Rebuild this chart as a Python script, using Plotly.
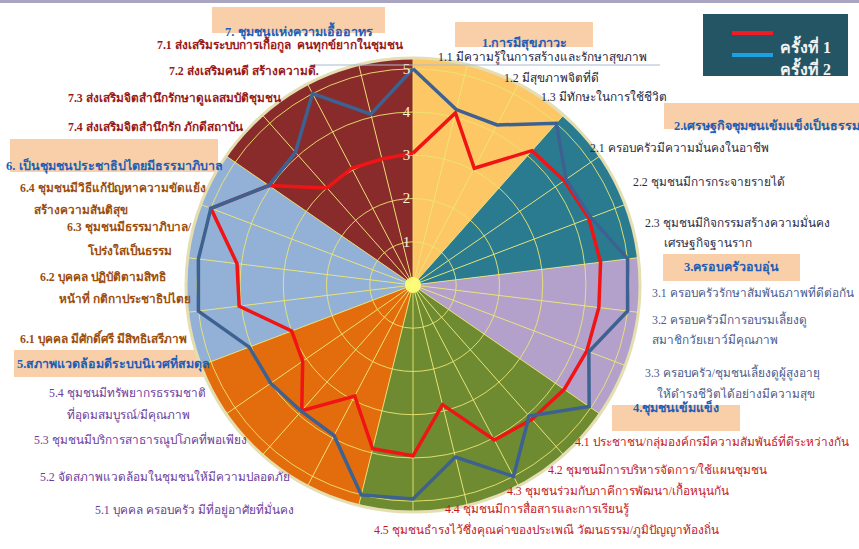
import plotly.graph_objects as go

W, H = 859, 549

# indicator items, clockwise from the top
items = ["1.1", "1.2", "1.3", "2.1", "2.2", "2.3", "3.1", "3.2", "3.3",
         "4.1", "4.2", "4.3", "4.4", "4.5", "5.1", "5.2", "5.3", "5.4",
         "6.1", "6.2", "6.3", "6.4", "7.1", "7.2", "7.3", "7.4"]
item_group = [1, 1, 1, 2, 2, 2, 3, 3, 3, 4, 4, 4, 4, 4, 5, 5, 5, 5,
              6, 6, 6, 6, 7, 7, 7, 7]

round_1 = [3.05, 4.1, 3.05, 4.15, 4.25, 4.35, 4.37, 4.33, 4.3, 4.25, 4.15, 4.05, 2.85,
           3.95, 3.9, 2.9, 3.88, 3.1, 3.0, 4.05, 4.1, 5.0, 4.05, 3.0, 3.05, 3.0]
round_2 = [5.0, 4.18, 4.18, 5.0, 4.3, 4.4, 5.0, 5.0, 4.35, 4.95, 4.05, 5.0, 4.1,
           4.95, 5.0, 3.93, 3.9, 4.0, 4.05, 5.0, 5.0, 5.0, 4.05, 4.1, 5.0, 4.07]
series_names = ["ครั้งที่ 1", "ครั้งที่ 2"]
radial_ticks = [1, 2, 3, 4, 5]
r_max = 5.25

group_titles = ["1.การมีสุขภาวะ",
                "2.เศรษฐกิจชุมชนเข้มแข็งเป็นธรรม",
                "3.ครอบครัวอบอุ่น",
                "4.ชุมชนเข้มแข็ง",
                "5.สภาพแวดล้อมดีระบบนิเวศที่สมดุล",
                "6. เป็นชุมชนประชาธิปไตยมีธรรมาภิบาล",
                "7. ชุมชนแห่งความเอื้ออาทร"]

label_lines = [
    ("1.1 มีความรู้ในการสร้างและรักษาสุขภาพ", 1),
    ("1.2 มีสุขภาพจิตที่ดี", 1),
    ("1.3 มีทักษะในการใช้ชีวิต", 1),
    ("2.1 ครอบครัวมีความมั่นคงในอาชีพ", 2),
    ("2.2 ชุมชนมีการกระจายรายได้", 2),
    ("2.3 ชุมชนมีกิจกรรมสร้างความมั่นคง", 2),
    ("เศรษฐกิจฐานราก", 2),
    ("3.1 ครอบครัวรักษาสัมพันธภาพที่ดีต่อกัน", 3),
    ("3.2 ครอบครัวมีการอบรมเลี้ยงดู", 3),
    ("สมาชิกวัยเยาว์มีคุณภาพ", 3),
    ("3.3 ครอบครัว/ชุมชนเลี้ยงดูผู้สูงอายุ", 3),
    ("ให้ดำรงชีวิตได้อย่างมีความสุข", 3),
    ("4.1 ประชาชน/กลุ่มองค์กรมีความสัมพันธ์ที่ดีระหว่างกัน", 4),
    ("4.2 ชุมชนมีการบริหารจัดการ/ใช้แผนชุมชน", 4),
    ("4.3 ชุมชนร่วมกับภาคีการพัฒนา/เกื้อหนุนกัน", 4),
    ("4.4 ชุมชนมีการสื่อสารและการเรียนรู้", 4),
    ("4.5 ชุมชนธำรงไว้ซึ่งคุณค่าของประเพณี วัฒนธรรม/ภูมิปัญญาท้องถิ่น", 4),
    ("5.4 ชุมชนมีทรัพยากรธรรมชาติ", 5),
    ("ที่อุดมสมบูรณ์/มีคุณภาพ", 5),
    ("5.3 ชุมชนมีบริการสาธารณูปโภคที่พอเพียง", 5),
    ("5.2 จัดสภาพแวดล้อมในชุมชนให้มีความปลอดภัย", 5),
    ("5.1 บุคคล ครอบครัว มีที่อยู่อาศัยที่มั่นคง", 5),
    ("6.4 ชุมชนมีวิธีแก้ปัญหาความขัดแย้ง", 6),
    ("สร้างความสันติสุข", 6),
    ("6.3 ชุมชนมีธรรมาภิบาล/", 6),
    ("โปร่งใสเป็นธรรม", 6),
    ("6.2 บุคคล ปฏิบัติตามสิทธิ", 6),
    ("หน้าที่ กติกาประชาธิปไตย", 6),
    ("6.1 บุคคล มีศักดิ์ศรี มีสิทธิเสรีภาพ", 6),
    ("7.1 ส่งเสริมระบบการเกื้อกูล  คนทุกข์ยากในชุมชน", 7),
    ("7.2 ส่งเสริมคนดี สร้างความดี.", 7),
    ("7.3 ส่งเสริมจิตสำนึกรักษาดูแลสมบัติชุมชน", 7),
    ("7.4 ส่งเสริมจิตสำนึกรัก ภักดีสถาบัน", 7),
]

# layout / style (pixel positions on the 859x549 page)
sector_colors = {1: "#fdc766", 2: "#2b7b90", 3: "#b3a1cb", 4: "#6e8b31",
                 5: "#e36c0c", 6: "#93b1d6", 7: "#8a2b2b"}
label_colors = {1: "#1c1c3a", 2: "#2a2a44", 3: "#4a5a8c", 4: "#c4161e",
                5: "#6b3c9c", 6: "#9c4e0e", 7: "#981a1a"}
label_pos = [(436, 57), (502, 78), (539, 97),
             (588, 147), (631, 182), (643, 222), (662, 243),
             (650, 292), (650, 319), (650, 340), (643, 372), (655, 394),
             (573, 441), (546, 470), (505, 490), (443, 509), (372, 530),
             (47, 393), (65, 415), (32, 440), (38, 477), (93, 510),
             (18, 188), (32, 210), (65, 227), (85, 250), (38, 277), (57, 298), (18, 338),
             (155, 45), (167, 71), (66, 98), (66, 127)]
title_boxes = [(455, 22, 593, 47), (664, 103, 859, 129), (663, 254, 800, 281),
               (612, 405, 740, 431), (14, 350, 212, 377), (10, 139, 218, 172),
               (212, 7, 385, 33)]
GRID = "rgba(236,228,112,0.9)"
SERIF = "Liberation Serif, DejaVu Serif, serif"
CENTER = (413, 285)
RADIUS = 227


def px(x):
    return x / W


def py(y):
    return 1 - y / H


domain = dict(x=[px(CENTER[0] - RADIUS), px(CENTER[0] + RADIUS)],
              y=[py(CENTER[1] + RADIUS), py(CENTER[1] - RADIUS)])

fig = go.Figure()

# coloured background sectors, one wedge per item, starting at its spoke
fig.add_trace(go.Barpolar(
    r=[r_max] * len(items), theta=items, width=1, offset=0,
    marker=dict(color=[sector_colors[g] for g in item_group], line_width=0),
    hoverinfo="skip", subplot="polar",
))

fig.add_trace(go.Scatterpolar(
    r=[0], theta=items[:1], mode="markers",
    marker=dict(size=16, color="rgba(255,255,120,0.9)"),
    hoverinfo="skip", subplot="polar2",
))
for name, vals, color in [(series_names[0], round_1, "#f01414"),
                          (series_names[1], round_2, "#3d6291")]:
    fig.add_trace(go.Scatterpolar(
        r=vals + vals[:1], theta=items + items[:1], mode="lines", name=name,
        line=dict(color=color, width=3.5), subplot="polar2",
    ))

angular_common = dict(type="category", categoryarray=items, direction="clockwise",
                      rotation=90, showticklabels=False, ticks="")
fig.update_layout(
    width=W, height=H,
    margin=dict(l=0, r=0, t=0, b=0),
    paper_bgcolor="white",
    showlegend=False,
    polar=dict(
        domain=domain, bgcolor="white",
        radialaxis=dict(range=[0, r_max], visible=False),
        angularaxis=dict(**angular_common, showgrid=False, showline=False),
    ),
    polar2=dict(
        domain=domain, bgcolor="rgba(0,0,0,0)",
        radialaxis=dict(range=[0, r_max], angle=90, side="counterclockwise",
                        tickvals=radial_ticks, tickangle=90, showline=False, ticks="",
                        gridcolor=GRID, gridwidth=1.2,
                        tickfont=dict(family=SERIF, size=15, color="#fbf3d6")),
        angularaxis=dict(**angular_common, gridcolor=GRID, gridwidth=1.2,
                         showline=True, linecolor="#e4deb0", linewidth=3),
    ),
)

shapes = [
    dict(type="rect", x0=0, x1=1, y0=py(3), y1=1, fillcolor="#a9a4c0", line_width=0),
    dict(type="line", x0=px(310), x1=px(660), y0=py(65), y1=py(65),
         line=dict(color="#a9bad2", width=1.2)),
]
annotations = []
for (x0, y0, x1, y1), title in zip(title_boxes, group_titles):
    shapes.append(dict(type="rect", x0=px(x0), x1=px(x1), y0=py(y1), y1=py(y0),
                       fillcolor="#f9cfa9", line_width=0, layer="below"))
    annotations.append(dict(
        text="<b>%s</b>" % title, x=px((x0 + x1) / 2 if x1 < W else x0 + 8),
        xanchor="center" if x1 < W else "left", y=py((y0 + y1) / 2),
        showarrow=False, font=dict(family=SERIF, size=12.5, color="#1d5fb8")))

for (text, g), (x, y) in zip(label_lines, label_pos):
    bold = g in (6, 7)
    annotations.append(dict(
        text="<b>%s</b>" % text if bold else text, x=px(x), y=py(y),
        xanchor="left", yanchor="middle", showarrow=False,
        font=dict(family=SERIF, size=11.8, color=label_colors[g])))

# legend box
shapes.append(dict(type="rect", x0=px(703), x1=px(848), y0=py(76), y1=py(14),
                   fillcolor="#235564", line_width=0))
for i, (color, name) in enumerate([("#ee1c25", series_names[0]),
                                   ("#1ba1e2", series_names[1])]):
    yy = 33 + 22 * i
    shapes.append(dict(type="line", x0=px(732), x1=px(773), y0=py(yy), y1=py(yy),
                       line=dict(color=color, width=4)))
    annotations.append(dict(text="<b>%s</b>" % name, x=px(778), y=py(yy),
                            xanchor="left", showarrow=False,
                            font=dict(family=SERIF, size=16, color="#f2f2f2")))

fig.update_layout(shapes=shapes, annotations=annotations)
# drop the browser's default 8px page margin so the figure sits at the top-left
fig.write_html("out.html", config={"displayModeBar": False},
               post_script="document.body.style.margin='0';")
